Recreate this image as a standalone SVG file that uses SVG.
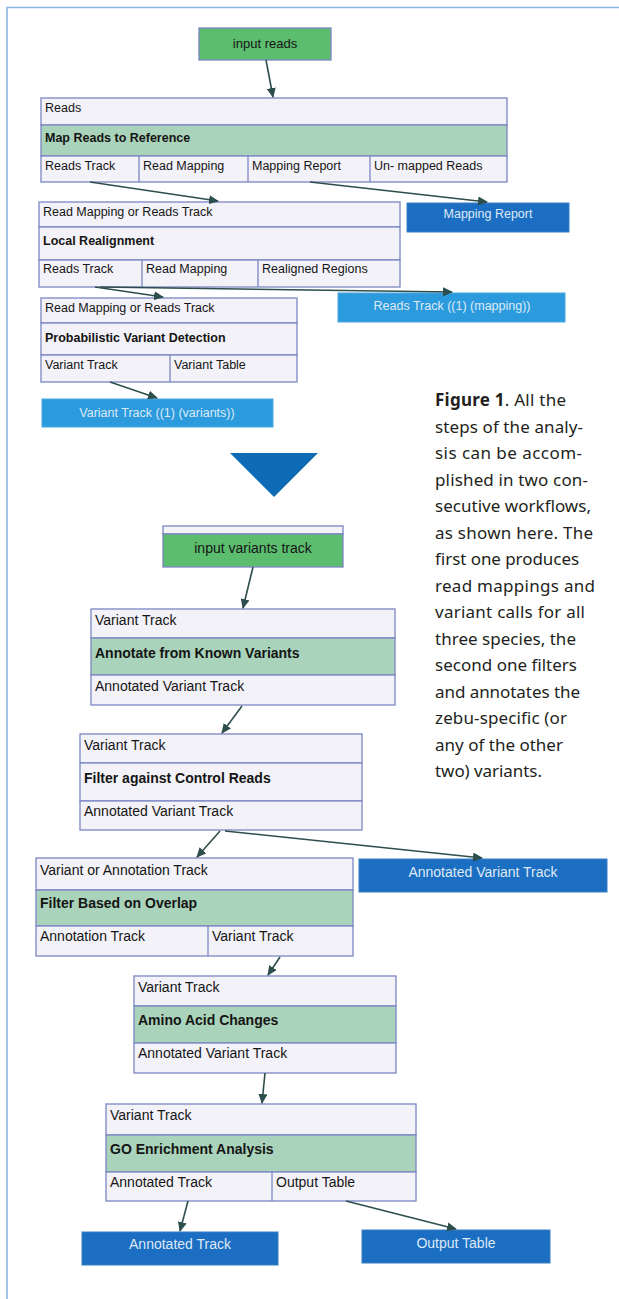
<svg xmlns="http://www.w3.org/2000/svg" width="619" height="1299" viewBox="0 0 619 1299">
<defs>
<marker id="ah" markerUnits="userSpaceOnUse" markerWidth="10" markerHeight="9" refX="9" refY="4.5" orient="auto">
<path d="M0,0 L10,4.5 L0,9 z" fill="#2e4d4d"/>
</marker>
<style>
.row{fill:#f3f2f8;stroke:#7b86c2;stroke-width:1.3}
.grn{fill:#a9d3ba;stroke:#7b86c2;stroke-width:1.3}
.inp{fill:#5cbd6f;stroke:#7b86c2;stroke-width:1.3}
.dk{fill:#1b6ec2;stroke:#3a7fc6;stroke-width:1}
.lt{fill:#2b9bdd;stroke:#4aa8e0;stroke-width:1}
.t1{font-family:"Liberation Sans",Arial,sans-serif;font-size:12.5px;fill:#151515}
.t2{font-family:"Liberation Sans",Arial,sans-serif;font-size:14px;fill:#151515}
.b{font-weight:bold}
.w1{font-family:"Liberation Sans",Arial,sans-serif;font-size:12.5px;fill:#dfe9f6;text-anchor:middle}
.w2{font-family:"Liberation Sans",Arial,sans-serif;font-size:14px;fill:#dfe9f6;text-anchor:middle}
.c{font-family:"Noto Sans","Liberation Sans",sans-serif;font-size:17px;fill:#231f20}
.e{fill:none;stroke:#2e4d4d;stroke-width:1.6;marker-end:url(#ah)}
</style>
</defs>
<rect width="619" height="1299" fill="#ffffff"/>
<g id="frame">
<path d="M7,1299 L7,7.5 L619,7.5" fill="none" stroke="#8cb5e3" stroke-width="1.6"/>
</g>

<g id="input-reads">
<rect class="inp" x="199" y="28" width="132" height="32"/>
<text class="t2" x="265" y="48" text-anchor="middle" style="font-size:13px">input reads</text>
</g>

<g id="map-reads">
<rect class="row" x="41" y="98" width="466" height="27"/>
<rect class="grn" x="41" y="125" width="466" height="31"/>
<rect class="row" x="41" y="156" width="466" height="26"/>
<line x1="139" y1="156" x2="139" y2="182" stroke="#7b86c2" stroke-width="1.3"/>
<line x1="248" y1="156" x2="248" y2="182" stroke="#7b86c2" stroke-width="1.3"/>
<line x1="370" y1="156" x2="370" y2="182" stroke="#7b86c2" stroke-width="1.3"/>
<text class="t1" x="45" y="112">Reads</text>
<text class="t1 b" x="45" y="142">Map Reads to Reference</text>
<text class="t1" x="45" y="170">Reads Track</text>
<text class="t1" x="143" y="170">Read Mapping</text>
<text class="t1" x="252" y="170">Mapping Report</text>
<text class="t1" x="374" y="170">Un- mapped Reads</text>
</g>

<g id="local-realignment">
<rect class="row" x="39" y="202" width="361" height="25"/>
<rect class="row" x="39" y="227" width="361" height="33"/>
<rect class="row" x="39" y="260" width="361" height="27"/>
<line x1="142" y1="260" x2="142" y2="287" stroke="#7b86c2" stroke-width="1.3"/>
<line x1="258" y1="260" x2="258" y2="287" stroke="#7b86c2" stroke-width="1.3"/>
<text class="t1" x="43" y="216">Read Mapping or Reads Track</text>
<text class="t1 b" x="43" y="245">Local Realignment</text>
<text class="t1" x="43" y="273">Reads Track</text>
<text class="t1" x="146" y="273">Read Mapping</text>
<text class="t1" x="262" y="273">Realigned Regions</text>
</g>

<g id="mapping-report-out">
<rect class="dk" x="407" y="203" width="162" height="29"/>
<text class="w1" x="488" y="218">Mapping Report</text>
</g>

<g id="reads-track-out">
<rect class="lt" x="338" y="293" width="227" height="29"/>
<text class="w1" x="452" y="310">Reads Track ((1) (mapping))</text>
</g>

<g id="variant-detection">
<rect class="row" x="41" y="298" width="256" height="25"/>
<rect class="row" x="41" y="323" width="256" height="32"/>
<rect class="row" x="41" y="355" width="256" height="27"/>
<line x1="170" y1="355" x2="170" y2="382" stroke="#7b86c2" stroke-width="1.3"/>
<text class="t1" x="45" y="312">Read Mapping or Reads Track</text>
<text class="t1 b" x="45" y="342">Probabilistic Variant Detection</text>
<text class="t1" x="45" y="369">Variant Track</text>
<text class="t1" x="174" y="369">Variant Table</text>
</g>

<g id="variant-track-out">
<rect class="lt" x="42" y="399" width="231" height="28"/>
<text class="w1" x="157" y="417">Variant Track ((1) (variants))</text>
</g>

<g id="big-arrow">
<polygon points="230,453 318,453 274,497" fill="#0e6cb6"/>
</g>

<g id="input-variants">
<rect class="row" x="163" y="526" width="180" height="8"/>
<rect class="inp" x="163" y="534" width="180" height="33"/>
<text class="t2" x="253" y="553" text-anchor="middle">input variants track</text>
</g>

<g id="annotate-known">
<rect class="row" x="91" y="609" width="304" height="29"/>
<rect class="grn" x="91" y="638" width="304" height="37"/>
<rect class="row" x="91" y="675" width="304" height="30"/>
<text class="t2" x="95" y="625">Variant Track</text>
<text class="t2 b" x="95" y="658">Annotate from Known Variants</text>
<text class="t2" x="95" y="691">Annotated Variant Track</text>
</g>

<g id="filter-control">
<rect class="row" x="80" y="734" width="282" height="29"/>
<rect class="row" x="80" y="763" width="282" height="38"/>
<rect class="row" x="80" y="801" width="282" height="29"/>
<text class="t2" x="84" y="750">Variant Track</text>
<text class="t2 b" x="84" y="783">Filter against Control Reads</text>
<text class="t2" x="84" y="816">Annotated Variant Track</text>
</g>

<g id="annotated-variant-out">
<rect class="dk" x="359" y="859" width="248" height="33"/>
<text class="w2" x="483" y="877">Annotated Variant Track</text>
</g>

<g id="filter-overlap">
<rect class="row" x="36" y="858" width="317" height="32"/>
<rect class="grn" x="36" y="890" width="317" height="36"/>
<rect class="row" x="36" y="926" width="317" height="30"/>
<line x1="208" y1="926" x2="208" y2="956" stroke="#7b86c2" stroke-width="1.3"/>
<text class="t2" x="40" y="875">Variant or Annotation Track</text>
<text class="t2 b" x="40" y="908">Filter Based on Overlap</text>
<text class="t2" x="40" y="941">Annotation Track</text>
<text class="t2" x="212" y="941">Variant Track</text>
</g>

<g id="amino-acid">
<rect class="row" x="134" y="976" width="262" height="30"/>
<rect class="grn" x="134" y="1006" width="262" height="37"/>
<rect class="row" x="134" y="1043" width="262" height="30"/>
<text class="t2" x="138" y="992">Variant Track</text>
<text class="t2 b" x="138" y="1025">Amino Acid Changes</text>
<text class="t2" x="138" y="1058">Annotated Variant Track</text>
</g>

<g id="go-enrichment">
<rect class="row" x="106" y="1104" width="310" height="31"/>
<rect class="grn" x="106" y="1135" width="310" height="37"/>
<rect class="row" x="106" y="1172" width="310" height="29"/>
<line x1="272" y1="1172" x2="272" y2="1201" stroke="#7b86c2" stroke-width="1.3"/>
<text class="t2" x="110" y="1120">Variant Track</text>
<text class="t2 b" x="110" y="1154">GO Enrichment Analysis</text>
<text class="t2" x="110" y="1187">Annotated Track</text>
<text class="t2" x="276" y="1187">Output Table</text>
</g>

<g id="annotated-track-out">
<rect class="dk" x="82" y="1232" width="196" height="33"/>
<text class="w2" x="180" y="1249">Annotated Track</text>
</g>

<g id="output-table-out">
<rect class="dk" x="362" y="1230" width="188" height="33"/>
<text class="w2" x="456" y="1248">Output Table</text>
</g>

<g id="connectors">
<line class="e" x1="266" y1="60" x2="273" y2="97"/>
<line class="e" x1="90" y1="182" x2="218" y2="201"/>
<line class="e" x1="310" y1="182" x2="487" y2="202"/>
<line class="e" x1="95" y1="287" x2="163" y2="297"/>
<line class="e" x1="100" y1="287" x2="452" y2="292"/>
<line class="e" x1="110" y1="382" x2="157" y2="398"/>
<line class="e" x1="253" y1="567" x2="243" y2="608"/>
<line class="e" x1="242" y1="706" x2="222" y2="733"/>
<line class="e" x1="220" y1="831" x2="197" y2="857"/>
<line class="e" x1="225" y1="831" x2="482" y2="858"/>
<line class="e" x1="280" y1="957" x2="268" y2="975"/>
<line class="e" x1="265" y1="1073" x2="262" y2="1103"/>
<line class="e" x1="188" y1="1201" x2="180" y2="1231"/>
<line class="e" x1="346" y1="1201" x2="456" y2="1229"/>
</g>

<g id="caption">
<text class="c" x="435" y="406" textLength="131"><tspan font-weight="bold">Figure 1</tspan>. All the</text>
<text class="c" x="435" y="432.5" textLength="148">steps of the analy-</text>
<text class="c" x="435" y="459" textLength="147">sis can be accom-</text>
<text class="c" x="435" y="485.5" textLength="153">plished in two con-</text>
<text class="c" x="435" y="512" textLength="156">secutive workflows,</text>
<text class="c" x="435" y="538.5" textLength="158">as shown here. The</text>
<text class="c" x="435" y="565" textLength="144">first one produces</text>
<text class="c" x="435" y="591.5" textLength="160">read mappings and</text>
<text class="c" x="435" y="618" textLength="150">variant calls for all</text>
<text class="c" x="435" y="644.5" textLength="141">three species, the</text>
<text class="c" x="435" y="671" textLength="142">second one filters</text>
<text class="c" x="435" y="697.5" textLength="145">and annotates the</text>
<text class="c" x="435" y="724" textLength="132">zebu-specific (or</text>
<text class="c" x="435" y="750.5" textLength="128">any of the other</text>
<text class="c" x="435" y="777" textLength="107">two) variants.</text>
</g>
</svg>
